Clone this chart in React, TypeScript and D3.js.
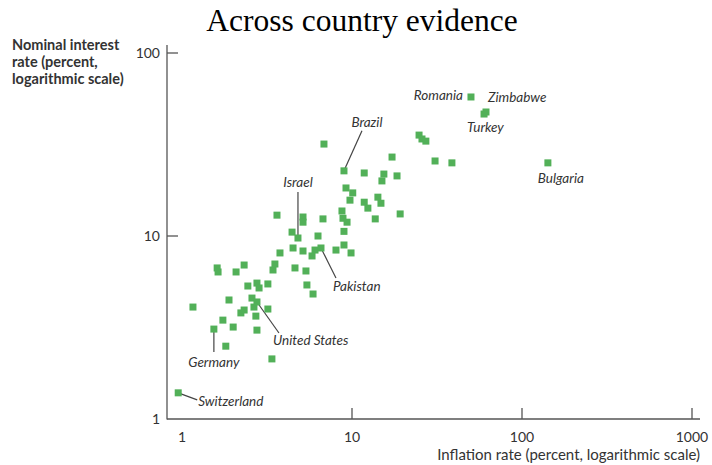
import React from "react";
import * as d3 from "d3";

// Inflation rate (%) and nominal interest rate (%) per country
const inflation = [
  0.95, 1.54, 1.81, 3.38, 1.16, 1.74, 2.0, 2.76, 1.89, 2.58,
  2.76, 2.65, 2.32, 2.22, 3.2, 2.72, 1.61, 1.63, 2.08, 2.32,
  2.44, 2.76, 2.84, 3.2, 3.43, 3.52, 3.77, 4.62, 5.36, 5.43,
  5.9, 3.62, 5.15, 5.15, 6.75, 4.44, 4.81, 6.31, 4.5, 5.15,
  6.06, 6.57, 5.82, 8.05, 9.87, 8.97, 8.97, 8.73, 8.85, 9.35,
  13.7, 19.2, 9.73, 11.8, 12.4, 14.2, 14.8, 9.22, 10.1, 8.97,
  11.8, 15.4, 15.0, 18.4, 17.2, 6.84, 24.8, 25.8, 27.2, 30.8,
  38.7, 50.1, 59.8, 61.4, 142,
];
const interest = [
  1.39, 3.1, 2.5, 2.13, 4.09, 3.47, 3.18, 3.06, 4.47, 4.58,
  4.36, 4.09, 3.94, 3.8, 3.99, 3.65, 6.69, 6.36, 6.36, 6.94,
  5.33, 5.53, 5.2, 5.47, 6.52, 7.03, 8.08, 6.69, 6.44, 5.4,
  4.82, 13.0, 12.7, 11.9, 12.4, 10.5, 9.75, 10.0, 8.6, 8.28,
  8.38, 8.6, 7.78, 8.38, 8.08, 10.6, 8.93, 13.7, 12.5, 11.9,
  12.4, 13.2, 15.7, 15.3, 14.2, 16.3, 15.1, 18.3, 17.2, 22.7,
  22.1, 21.8, 20.0, 21.3, 27.0, 31.8, 35.6, 33.9, 33.0, 25.7,
  25.1, 57.5, 46.4, 47.6, 25.1,
];

// Labelled countries (index into the arrays above)
const labelNames = ["Switzerland", "Germany", "United States", "Israel", "Pakistan", "Brazil", "Romania", "Turkey", "Zimbabwe", "Bulgaria"];
const labelIndex = [0, 1, 10, 36, 41, 59, 71, 72, 73, 74];
// label placement relative to the point: text dx, dy, anchor, leader line end (lx, ly) or null
const labelPlacement: [number, number, string, number[] | null][] = [
  [20, 13, "start", [19, 7]],
  [0, 38, "middle", [0, 23]],
  [16, 43, "start", [22, 31]],
  [0, -51, "middle", [0, -46]],
  [12, 43, "start", [15, 30]],
  [23, -44, "middle", [18, -40]],
  [-8, 3, "end", null],
  [-17, 18, "start", null],
  [2, -10, "start", null],
  [13, 20, "middle", null],
];

const xTickValues = [1, 10, 100, 1000];
const yTickValues = [1, 10, 100];

const W = 712;
const H = 465;

export default function App() {
  const x = d3.scaleLog().domain([1, 1000]).range([182, 692]);
  const y = d3.scaleLog().domain([1, 100]).range([419, 53]);
  const axisColor = "#555";
  const textColor = "#333";
  const green = "#52b058";
  const sz = 7;
  const sans = "Lato, 'Open Sans', sans-serif";

  return (
    <svg
      width={W}
      height={H}
      style={{ position: "absolute", left: 0, top: 0, background: "#fff" }}
      fontFamily={sans}
    >
      <text x={362} y={31} textAnchor="middle" fontFamily="'Liberation Serif', 'Times New Roman', serif" fontSize={31.5} fill="#000">
        Across country evidence
      </text>

      {/* y axis title */}
      <text x={12} y={50} fontSize={14.5} fontWeight={700} fill={textColor}>
        <tspan x={12} dy={0}>Nominal interest</tspan>
        <tspan x={12} dy={17}>rate (percent,</tspan>
        <tspan x={12} dy={17}>logarithmic scale)</tspan>
      </text>

      {/* axes */}
      <line x1={167} x2={167} y1={45} y2={419.5} stroke={axisColor} strokeWidth={1.3} />
      <line x1={167} x2={700} y1={419} y2={419} stroke={axisColor} strokeWidth={1.3} />

      {yTickValues.map((v) => (
        <g key={"y" + v}>
          {v > 1 && <line x1={167} x2={178} y1={y(v)} y2={y(v)} stroke={axisColor} strokeWidth={1.3} />}
          <text x={160} y={y(v)} dy="0.35em" textAnchor="end" fontSize={14} fill={textColor}>
            {d3.format("d")(v)}
          </text>
        </g>
      ))}

      {xTickValues.map((v) => (
        <g key={"x" + v}>
          {v > 1 && <line x1={x(v)} x2={x(v)} y1={419} y2={408} stroke={axisColor} strokeWidth={1.3} />}
          <text x={x(v)} y={442} textAnchor="middle" fontSize={14} fill={textColor}>
            {d3.format("d")(v)}
          </text>
        </g>
      ))}

      <text x={700} y={460} textAnchor="end" fontSize={15} fill={textColor}>
        Inflation rate (percent, logarithmic scale)
      </text>

      {/* leader lines */}
      {labelIndex.map((idx, k) => {
        const p = labelPlacement[k];
        if (!p[3]) return null;
        const px = x(inflation[idx]);
        const py = y(interest[idx]);
        return (
          <line key={"l" + k} x1={px} y1={py} x2={px + p[3][0]} y2={py + p[3][1]} stroke="#444" strokeWidth={1.2} />
        );
      })}

      {/* points */}
      {inflation.map((v, i) => (
        <rect
          key={i}
          x={x(v) - sz / 2}
          y={y(interest[i]) - sz / 2}
          width={sz}
          height={sz}
          fill={green}
        />
      ))}

      {/* country labels */}
      {labelIndex.map((idx, k) => {
        const p = labelPlacement[k];
        const px = x(inflation[idx]);
        const py = y(interest[idx]);
        return (
          <text
            key={"t" + k}
            x={px + p[0]}
            y={py + p[1]}
            textAnchor={p[2] as any}
            fontSize={13.5}
            fontStyle="italic"
            fill={textColor}
          >
            {labelNames[k]}
          </text>
        );
      })}
    </svg>
  );
}
